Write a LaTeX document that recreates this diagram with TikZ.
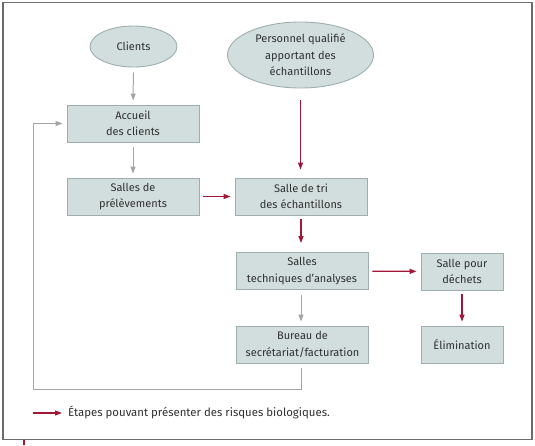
\documentclass[tikz,border=0pt]{standalone}
\usepackage{fontspec}
\setmainfont{Fira Sans}
\usetikzlibrary{arrows.meta,shapes.geometric}
\definecolor{boxfill}{RGB}{210,222,222}
\definecolor{boxline}{RGB}{158,174,174}
\definecolor{flowgray}{RGB}{165,165,165}
\definecolor{riskred}{RGB}{163,22,56}
\definecolor{textgray}{RGB}{48,48,48}
\definecolor{framegray}{RGB}{108,108,108}
\tikzset{
  box/.style={draw=boxline, fill=boxfill, line width=0.9pt, align=center,
    minimum width=132pt, minimum height=37pt, inner sep=2pt, text=textgray,
    font=\fontsize{11}{16.5}\selectfont},
  smallbox/.style={box, minimum width=82pt},
  oval/.style={ellipse, draw=boxline, fill=boxfill, line width=0.9pt, align=center,
    inner sep=0pt, text=textgray, font=\fontsize{11}{16.5}\selectfont},
  plainarrow/.style={draw=flowgray, line width=1pt,
    -{Triangle[length=7pt,width=5pt]}, shorten <=5pt, shorten >=4pt},
  riskarrow/.style={draw=riskred, line width=1.2pt,
    -{Triangle[length=7pt,width=5pt]}, shorten <=4pt, shorten >=4pt}
}
\begin{document}
\begin{tikzpicture}[x=1pt,y=-1pt]
\useasboundingbox (0,0) rectangle (535,445);
\draw[framegray, line width=1.2pt] (3,2.5) rectangle (532,439.5);
\draw[riskred, line width=1.2pt] (24,440) -- (24,445);
\node[oval, minimum width=87pt, minimum height=41pt] (clients) at (133.5,46.5) {Clients};
\node[oval, minimum width=146pt, minimum height=66pt] (personnel) at (300.5,55) {Personnel qualifié\\apportant des\\échantillons};
\node[box] (accueil) at (133,123.5) {Accueil\\des clients};
\node[box] (prel) at (133,196.5) {Salles de\\prélèvements};
\node[box] (tri) at (301,196.5) {Salle de tri\\des échantillons};
\node[box] (tech) at (302,271) {Salles\\techniques d'analyses};
\node[box] (bureau) at (302.5,344.5) {Bureau de\\secrétariat/facturation};
\node[smallbox] (dechets) at (462,271.5) {Salle pour\\déchets};
\node[smallbox] (elim) at (462,344.5) {Élimination};
\coordinate (loopcorner) at (33,389);
\draw[plainarrow] (clients) -- (accueil);
\draw[plainarrow] (accueil) -- (prel);
\draw[riskarrow, shorten <=12pt, shorten >=8pt] (personnel.south) -- (personnel.south |- tri.north);
\draw[riskarrow] (prel) -- (tri);
\draw[riskarrow, shorten >=9pt] (tri.south) -- (tri.south |- tech.north);
\draw[riskarrow] (tech) -- (dechets);
\draw[riskarrow] (dechets) -- (elim);
\draw[plainarrow] (tech.south -| tri.south) -- (tri.south |- bureau.north);
\draw[plainarrow, shorten >=4pt] (bureau.south -| tri.south) |- (loopcorner) |- (accueil.west);
\node[anchor=west, text=textgray, font=\fontsize{11.4}{13}\selectfont, inner sep=0pt] (legend) at (68,413) {Étapes pouvant présenter des risques biologiques.};
\coordinate (legstart) at (33,413);
\draw[riskarrow, shorten <=0pt, shorten >=6pt] (legstart) -- (legend.west);
\end{tikzpicture}
\end{document}
